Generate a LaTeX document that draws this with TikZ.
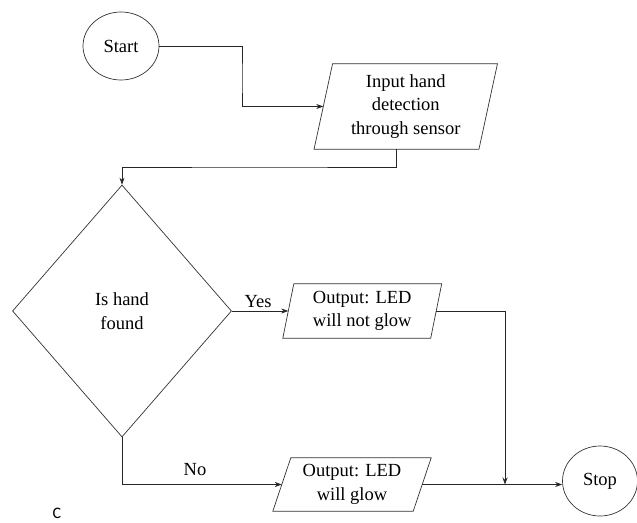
\documentclass[tikz,border=0pt]{standalone}
\usepackage{fontspec}
\setmainfont{Liberation Serif}
\newfontfamily\cfont{Carlito}
\usetikzlibrary{shapes.geometric,arrows.meta,calc}
\begin{document}
\begin{tikzpicture}[x=1pt,y=-1pt,
  every node/.style={font=\fontsize{18.5}{23.5}\selectfont, text=black, inner sep=0pt},
  boxline/.style={draw=black!80, line width=0.7pt},
  term/.style={ellipse, boxline, minimum width=76, minimum height=68},
  pbox/.style={align=center},
  conn/.style={draw=black!85, line width=0.7pt, -{Stealth[length=7pt,width=5pt]}}]
\useasboundingbox (0,0) rectangle (637,522);
\fill[white] (0,0) rectangle (637,522);

\newcommand\pgramdraw[2]{\draw[boxline] ($(#1.north west)+(#2,0)$) -- ($(#1.north east)+(#2,0)$) -- ($(#1.south east)+(-#2,0)$) -- ($(#1.south west)+(-#2,0)$) -- cycle;}

\node[term] (start) at (121,46) {Start};
\node[pbox, minimum width=164.5, minimum height=85] (in) at (405.75,106.5) {Input hand\\detection\\through sensor};
\pgramdraw{in}{9.25}
\node[diamond, boxline, minimum width=219, minimum height=252, align=center] (dec) at (122,311) {Is hand\\found};
\node[pbox, minimum width=147.5, minimum height=54] (out1) at (362.25,311) {Output: LED\\will not glow};
\pgramdraw{out1}{5.5}
\node[pbox, minimum width=140, minimum height=53] (out2) at (352,484.5) {Output: LED\\will glow};
\pgramdraw{out2}{9}
\node[term, minimum width=75, minimum height=70] (stop) at (600,481) {Stop};

\coordinate (c1) at (242,80);
\draw[conn] (start.east) -| (c1) |- (in.west);
\coordinate (inb) at ($(in.south)+(-9.25,0)$);
\coordinate (c2) at (260,167);
\draw[conn] (inb) |- (c2) -| (dec.north);
\draw[conn] (dec.east) -- (out1.west);
\node[anchor=south] (yes) at (258,308) {Yes};
\draw[conn] (dec.south) |- (out2.west);
\node (no) at (195,470) {No};
\coordinate (j) at (505,484.5);
\draw[conn] (out1.east) -| (j);
\draw[conn] (out2.east) -- (out2.east -| stop.west);
\node[font=\cfont\fontsize{16}{18}\selectfont] (clabel) at (57,513) {C};
\end{tikzpicture}
\end{document}
